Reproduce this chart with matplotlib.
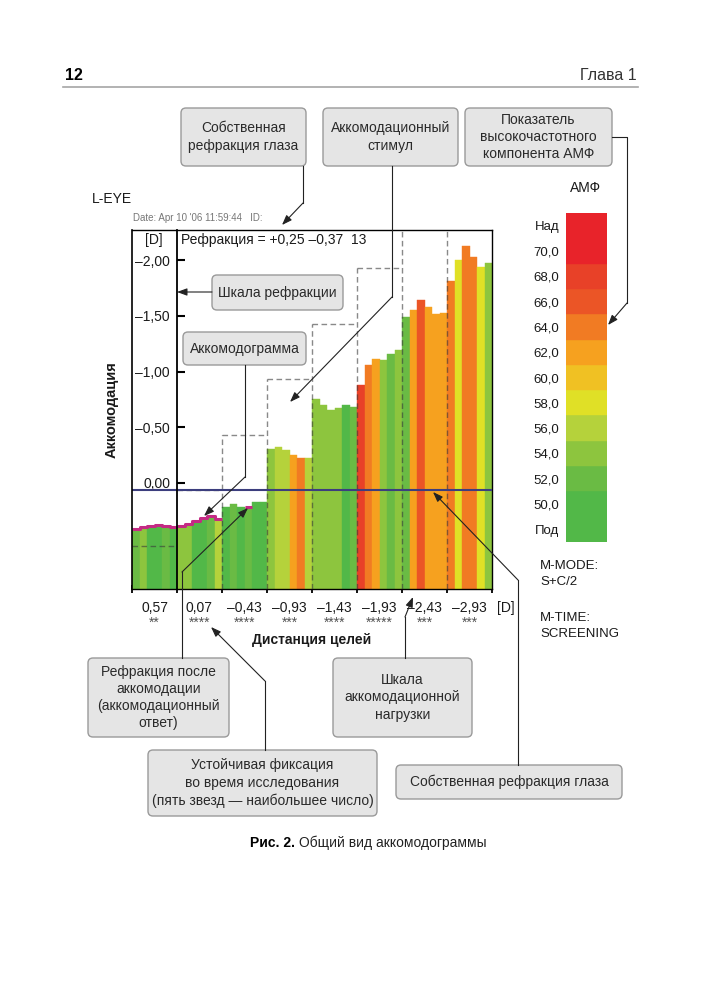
import numpy as np
import matplotlib
matplotlib.use('Agg')
import matplotlib.pyplot as plt
from matplotlib.patches import FancyBboxPatch

plt.rcParams['font.family'] = ['Liberation Sans', 'DejaVu Sans']

# --- data -------------------------------------------------------------
dist_labels = ['0,57', '0,07', '–0,43', '–0,93', '–1,43', '–1,93', '–2,43', '–2,93']
stars = ['**', '****', '****', '***', '****', '*****', '***', '***']
stimulus = [0.57, 0.07, -0.43, -0.93, -1.43, -1.93, -2.43, -2.93]
own_refraction = 0.07

# refraction per measurement (6 per target distance), D
refr = [
    [0.43, 0.41, 0.40, 0.39, 0.40, 0.41],
    [0.40, 0.38, 0.36, 0.33, 0.31, 0.34],
    [0.22, 0.19, 0.22, 0.23, 0.17, 0.17],
    [-0.30, -0.32, -0.29, -0.25, -0.22, -0.22],
    [-0.75, -0.70, -0.65, -0.67, -0.70, -0.68],
    [-0.88, -1.06, -1.11, -1.10, -1.16, -1.19],
    [-1.49, -1.55, -1.64, -1.58, -1.52, -1.53],
    [-1.81, -2.00, -2.13, -2.03, -1.94, -1.98],
]
# high-frequency component class per measurement
amf = [
    [52, 54, 50, 50, 52, 50],
    [54, 54, 50, 50, 52, 56],
    [50, 52, 50, 52, 50, 50],
    [54, 56, 56, 62, 64, 56],
    [54, 54, 54, 54, 50, 52],
    [68, 64, 62, 54, 52, 54],
    [52, 62, 66, 62, 62, 62],
    [64, 58, 64, 64, 58, 54],
]
# measurements marked with the magenta outline
marked = [
    [1, 1, 1, 1, 1, 1],
    [1, 1, 1, 1, 1, 1],
    [0, 0, 0, 1, 0, 0],
    [0] * 6, [0] * 6, [0] * 6, [0] * 6, [0] * 6,
]

ytick_vals = [-2.0, -1.5, -1.0, -0.5, 0.0, 0.5]
ytick_labels = ['–2,00', '–1,50', '–1,00', '–0,50', '0,00', '0,50']

amf_levels = [50, 52, 54, 56, 58, 60, 62, 64, 66, 68, 70]
amf_colors = ['#52b848', '#6abb44', '#8dc53e', '#b5d23b', '#e0e026', '#f0c123',
              '#f6a11f', '#f17b23', '#eb5526', '#e84128', '#e8232a']
# colour scale rows (bottom -> top) and how many rows each colour covers
legend_labels = ['Под', '50,0', '52,0', '54,0', '56,0', '58,0', '60,0',
                 '62,0', '64,0', '66,0', '68,0', '70,0', 'Над']
legend_rows = [2, 1, 1, 1, 1, 1, 1, 1, 1, 1, 2]

# --- figure -----------------------------------------------------------
fig = plt.figure(figsize=(7.04, 10), dpi=100)
W, H = 704, 1000

def fax(x0, y0, x1, y1, **kw):
    return fig.add_axes([x0 / W, 1 - y1 / H, (x1 - x0) / W, (y1 - y0) / H], **kw)

ax = fax(132, 230, 492, 589)
y_bot, y_top = 0.956, -2.273
ax.set_xlim(0, 8)
ax.set_ylim(y_bot, y_top)

nb = 6
for g in range(8):
    for i in range(nb):
        v = refr[g][i]
        c = amf_colors[amf_levels.index(amf[g][i])]
        ax.bar(g + (i + 0.5) / nb, v - y_bot, bottom=y_bot, width=1 / nb,
               color=c, edgecolor=c, linewidth=0.3, zorder=2)

# magenta outline on marked bars
for g in range(8):
    xs, ys = [], []
    for i in range(nb):
        if marked[g][i]:
            xs += [g + i / nb, g + (i + 1) / nb]
            ys += [refr[g][i] - 0.012] * 2
        elif xs:
            ax.plot(xs, ys, color='#c42a84', lw=2.2, zorder=4, solid_capstyle='butt')
            xs, ys = [], []
    if xs:
        ax.plot(xs, ys, color='#c42a84', lw=2.2, zorder=4, solid_capstyle='butt')

# stimulus staircase
dash = dict(color='#3a3a3a', alpha=0.6, lw=1.0, linestyle=(0, (4, 2.5)), zorder=3)
for g in range(8):
    ax.hlines(stimulus[g], g, g + 1, **dash)
    if g >= 2:
        ax.vlines(g, y_bot, stimulus[g], **dash)

ax.axhline(own_refraction, color='#3c3e7e', lw=1.5, zorder=5)
ax.axvline(0, color='black', lw=1.2, clip_on=False, zorder=6)

for s in ['top', 'right', 'bottom']:
    ax.spines[s].set_linewidth(1.0)
ax.spines['left'].set_position(('data', 1))
ax.spines['left'].set_linewidth(1.3)
ax.spines['left'].set_zorder(6)

ax.set_yticks(ytick_vals)
ax.set_yticklabels(ytick_labels, fontsize=10, color='#1a1a1a')
ax.tick_params(axis='y', direction='in', length=6, width=1.5, pad=5)
ax.set_xticks(range(9))
ax.set_xticklabels([])
ax.tick_params(axis='x', direction='inout', length=6, width=1.3)

xt = ax.get_xaxis_transform()
for g in range(8):
    ax.text(g + 0.5, -0.053, dist_labels[g], transform=xt, ha='center', va='center',
            fontsize=10, color='#1a1a1a')
    ax.text(g + 0.5, -0.074, stars[g], transform=xt, ha='center', va='top',
            fontsize=10, color='#555555')
ax.text(8.31, -0.053, '[D]', transform=xt, ha='center', va='center', fontsize=10,
        color='#1a1a1a')
ax.text(0.49 / 8, 0.972, '[D]', transform=ax.transAxes, ha='center', va='center',
        fontsize=10, color='#1a1a1a')
ax.text(1.09 / 8, 0.972, 'Рефракция = +0,25 –0,37  13', transform=ax.transAxes,
        ha='left', va='center', fontsize=10, color='#1a1a1a')

# colour scale
cax = fax(566, 213, 607, 542)
bottom = 0
for c, n in zip(amf_colors, legend_rows):
    cax.bar(0, n, bottom=bottom, width=1, color=c, edgecolor=c, linewidth=0.3)
    bottom += n
cax.set_xlim(-0.5, 0.5)
cax.set_ylim(0, len(legend_labels))
cax.set_yticks(np.arange(len(legend_labels)) + 0.5)
cax.set_yticklabels(legend_labels, fontsize=9.5, color='#1a1a1a')
cax.tick_params(axis='y', length=0, pad=5)
cax.set_xticks([])
for s in cax.spines.values():
    s.set_visible(False)

# --- overlay: page text, callouts --------------------------------------
ov = fax(0, 0, W, H, zorder=10)
ov.set_xlim(0, W)
ov.set_ylim(H, 0)
ov.axis('off')
ov.patch.set_alpha(0)

ov.text(65, 75, '12', fontsize=11.5, fontweight='bold', va='center')
ov.text(637, 75, 'Глава 1', fontsize=11.5, va='center', ha='right', color='#333333')
ov.plot([63, 638], [87, 87], color='#a5a5a5', lw=1.2)
cap = ov.text(250, 843, 'Рис. 2.', fontsize=10, fontweight='bold', va='center')
ov.annotate('Общий вид аккомодограммы', xy=(1, 0.5), xycoords=cap,
            xytext=(3, 0), textcoords='offset points', fontsize=10, va='center',
            color='#222222')

ov.text(92, 199, 'L-EYE', fontsize=10, va='center', color='#1a1a1a')
ov.text(133, 218, "Date: Apr 10 '06 11:59:44   ID:", fontsize=7, va='center', color='#777777')
ov.text(586, 188, 'АМФ', fontsize=10, ha='center', va='center', color='#1a1a1a')
ov.text(540, 574, 'M-MODE:\nS+C/2', fontsize=9.5, va='center', linespacing=1.5, color='#1a1a1a')
ov.text(540, 626, 'M-TIME:\nSCREENING', fontsize=9.5, va='center', linespacing=1.5, color='#1a1a1a')
ov.text(112, 410, 'Аккомодация', fontsize=10.5, fontweight='bold', rotation=90,
        ha='center', va='center', color='#1a1a1a')
ov.text(312, 640, 'Дистанция целей', fontsize=10, fontweight='bold',
        ha='center', va='center', color='#1a1a1a')

boxes = [
    (181, 108, 306, 166, 'Собственная\nрефракция глаза'),
    (323, 108, 458, 166, 'Аккомодационный\nстимул'),
    (465, 108, 612, 166, 'Показатель\nвысокочастотного\nкомпонента АМФ'),
    (212, 275, 343, 310, 'Шкала рефракции'),
    (183, 332, 306, 365, 'Аккомодограмма'),
    (88, 658, 229, 737, 'Рефракция после\nаккомодации\n(аккомодационный\nответ)'),
    (333, 658, 472, 737, 'Шкала\nаккомодационной\nнагрузки'),
    (148, 750, 377, 816, 'Устойчивая фиксация\nво время исследования\n(пять звезд — наибольшее число)'),
    (396, 765, 622, 799, 'Собственная рефракция глаза'),
]
for x0, y0, x1, y1, t in boxes:
    ov.add_patch(FancyBboxPatch((x0, y0), x1 - x0, y1 - y0,
                                boxstyle='round,pad=0,rounding_size=5',
                                fc='#e5e5e5', ec='#9a9a9a', lw=1.0))
    ov.text((x0 + x1) / 2, (y0 + y1) / 2, t, ha='center', va='center',
            fontsize=10, color='#2a2a2a', linespacing=1.3)

connectors = [
    [(303, 166), (303, 203), (282, 225)],
    [(392, 166), (392, 297), (290, 402)],
    [(612, 137), (627, 137), (627, 303), (608, 325)],
    [(212, 292), (177, 292)],
    [(245, 365), (245, 477), (204, 516)],
    [(182, 658), (182, 572), (248, 508)],
    [(265, 750), (265, 681), (211, 627)],
    [(405, 658), (405, 617), (413, 597)],
    [(518, 765), (518, 580), (433, 492)],
]
for pts in connectors:
    xs = [p[0] for p in pts]
    ys = [p[1] for p in pts]
    ov.plot(xs[:-1], ys[:-1], color='#222222', lw=0.8)
    ov.annotate('', xy=pts[-1], xytext=pts[-2],
                arrowprops=dict(arrowstyle='-|>,head_length=0.6,head_width=0.22',
                                color='#222222', lw=0.8, shrinkA=0, shrinkB=0,
                                mutation_scale=10))

fig.savefig('out.png', dpi=100, facecolor='white')
